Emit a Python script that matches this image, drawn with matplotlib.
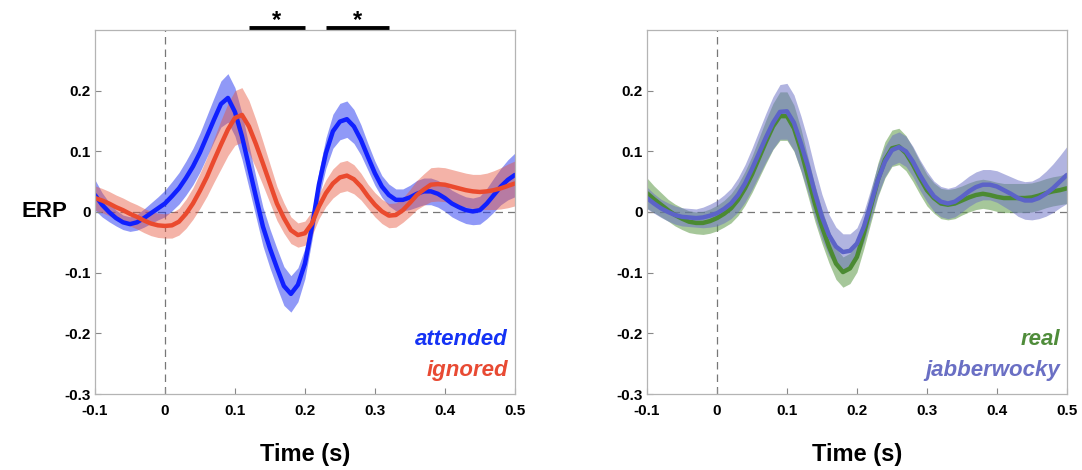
import numpy as np
import matplotlib
matplotlib.use('Agg')
import matplotlib.pyplot as plt

plt.rcParams['font.family'] = ['Liberation Sans', 'DejaVu Sans']

# time axis (s), one sample every 10 ms
time = np.round(np.arange(-0.1, 0.5001, 0.01), 2)

# left panel: attention
attended = [0.028, 0.012, 0.0, -0.01, -0.017, -0.02, -0.017, -0.01, -0.002, 0.006,
            0.014, 0.026, 0.039, 0.056, 0.075, 0.098, 0.125, 0.152, 0.178, 0.188,
            0.165, 0.125, 0.075, 0.025, -0.024, -0.06, -0.092, -0.122, -0.135, -0.12,
            -0.085, -0.025, 0.045, 0.097, 0.133, 0.149, 0.153, 0.141, 0.119, 0.091,
            0.064, 0.042, 0.028, 0.02, 0.02, 0.024, 0.03, 0.034, 0.034, 0.03,
            0.023, 0.014, 0.008, 0.003, 0.001, 0.003, 0.014, 0.028, 0.042, 0.053,
            0.061]
attended_sem = [0.025, 0.02, 0.016, 0.013, 0.012, 0.012, 0.013, 0.015, 0.017, 0.019,
                0.022, 0.024, 0.026, 0.028, 0.03, 0.032, 0.034, 0.036, 0.038, 0.04,
                0.04, 0.038, 0.035, 0.033, 0.032, 0.032, 0.032, 0.032, 0.03, 0.028,
                0.025, 0.022, 0.022, 0.025, 0.028, 0.03, 0.03, 0.028, 0.025, 0.022,
                0.02, 0.018, 0.018, 0.018, 0.018, 0.02, 0.022, 0.022, 0.022, 0.022,
                0.022, 0.022, 0.022, 0.022, 0.022, 0.023, 0.025, 0.028, 0.03, 0.033,
                0.036]
ignored = [0.023, 0.019, 0.014, 0.008, 0.003, -0.003, -0.008, -0.014, -0.019, -0.022,
           -0.023, -0.022, -0.016, -0.003, 0.014, 0.035, 0.058, 0.085, 0.111, 0.136,
           0.155, 0.16, 0.141, 0.112, 0.08, 0.047, 0.014, -0.01, -0.03, -0.038,
           -0.035, -0.019, 0.009, 0.031, 0.047, 0.057, 0.06, 0.054, 0.042, 0.026,
           0.012, 0.001, -0.006, -0.005, 0.003, 0.015, 0.028, 0.037, 0.045, 0.046,
           0.045, 0.042, 0.039, 0.036, 0.034, 0.033, 0.034, 0.036, 0.039, 0.043,
           0.047]
ignored_sem = [0.02, 0.02, 0.02, 0.02, 0.02, 0.02, 0.02, 0.02, 0.02, 0.02,
               0.02, 0.021, 0.022, 0.024, 0.026, 0.029, 0.032, 0.036, 0.04, 0.043,
               0.045, 0.045, 0.043, 0.04, 0.036, 0.032, 0.028, 0.025, 0.022, 0.02,
               0.02, 0.02, 0.02, 0.022, 0.024, 0.025, 0.025, 0.024, 0.022, 0.02,
               0.02, 0.02, 0.02, 0.02, 0.02, 0.022, 0.024, 0.026, 0.028, 0.028,
               0.028, 0.028, 0.028, 0.028, 0.028, 0.029, 0.03, 0.032, 0.034, 0.036,
               0.037]

# right panel: word type
real = [0.031, 0.021, 0.012, 0.003, -0.005, -0.011, -0.016, -0.018, -0.018, -0.015,
        -0.01, -0.003, 0.006, 0.02, 0.039, 0.062, 0.089, 0.116, 0.141, 0.158,
        0.158, 0.138, 0.102, 0.058, 0.014, -0.024, -0.057, -0.085, -0.099, -0.093,
        -0.074, -0.035, 0.009, 0.053, 0.086, 0.105, 0.108, 0.097, 0.078, 0.056,
        0.036, 0.023, 0.014, 0.012, 0.014, 0.019, 0.024, 0.028, 0.03, 0.028,
        0.025, 0.023, 0.023, 0.023, 0.023, 0.024, 0.027, 0.031, 0.034, 0.036,
        0.039]
real_sem = [0.025, 0.022, 0.02, 0.018, 0.018, 0.018, 0.018, 0.018, 0.019, 0.02,
            0.021, 0.022, 0.024, 0.026, 0.028, 0.03, 0.033, 0.036, 0.038, 0.04,
            0.04, 0.038, 0.035, 0.032, 0.03, 0.028, 0.027, 0.026, 0.025, 0.025,
            0.025, 0.025, 0.026, 0.028, 0.03, 0.03, 0.03, 0.029, 0.028, 0.027,
            0.026, 0.025, 0.025, 0.025, 0.025, 0.024, 0.024, 0.024, 0.024, 0.024,
            0.024, 0.024, 0.024, 0.024, 0.024, 0.024, 0.024, 0.024, 0.024, 0.024,
            0.025]
jabber = [0.023, 0.014, 0.006, 0.0, -0.005, -0.008, -0.009, -0.01, -0.009, -0.006,
          -0.002, 0.005, 0.014, 0.028, 0.047, 0.071, 0.097, 0.123, 0.147, 0.165,
          0.166, 0.147, 0.113, 0.075, 0.031, -0.008, -0.038, -0.057, -0.066, -0.064,
          -0.052, -0.024, 0.014, 0.053, 0.083, 0.102, 0.107, 0.1, 0.083, 0.061,
          0.042, 0.026, 0.017, 0.014, 0.017, 0.025, 0.034, 0.041, 0.045, 0.045,
          0.042, 0.036, 0.03, 0.023, 0.019, 0.019, 0.023, 0.03, 0.039, 0.05,
          0.061]
jabber_sem = [0.018, 0.016, 0.015, 0.015, 0.015, 0.015, 0.015, 0.015, 0.017, 0.019,
              0.021, 0.023, 0.025, 0.028, 0.031, 0.034, 0.037, 0.04, 0.043, 0.045,
              0.046, 0.046, 0.045, 0.043, 0.04, 0.037, 0.034, 0.032, 0.03, 0.028,
              0.026, 0.025, 0.025, 0.025, 0.025, 0.025, 0.025, 0.025, 0.025, 0.025,
              0.025, 0.025, 0.025, 0.025, 0.025, 0.025, 0.025, 0.025, 0.025, 0.025,
              0.026, 0.027, 0.028, 0.03, 0.031, 0.032, 0.034, 0.037, 0.04, 0.043,
              0.047]

# significant windows (s)
sig_windows = [(0.12, 0.2), (0.23, 0.32)]

xticks = [-0.1, 0, 0.1, 0.2, 0.3, 0.4, 0.5]
xticklabels = ['-0.1', '0', '0.1', '0.2', '0.3', '0.4', '0.5']
yticks = [-0.3, -0.2, -0.1, 0, 0.1, 0.2]
yticklabels = ['-0.3', '-0.2', '-0.1', '0', '0.1', '0.2']


def draw_trace(ax, m, s, line_col, band_col, band_alpha):
    m = np.array(m)
    s = np.array(s)
    ax.fill_between(time, m - s, m + s, color=band_col, alpha=band_alpha, lw=0)
    ax.plot(time, m, color=line_col, lw=3.2, solid_capstyle='round')


def style_axes(ax):
    ax.axhline(0, color='#555555', lw=0.9, ls=(0, (6, 4)), alpha=0.8, zorder=0)
    ax.axvline(0, color='#555555', lw=0.9, ls=(0, (6, 4)), alpha=0.8, zorder=0)
    ax.set_xlim(-0.1, 0.5)
    ax.set_ylim(-0.3, 0.3)
    ax.set_xticks(xticks)
    ax.set_xticklabels(xticklabels)
    ax.set_yticks(yticks)
    ax.set_yticklabels(yticklabels)
    for sp in ax.spines.values():
        sp.set_color('#b4b4b4')
        sp.set_linewidth(0.9)
    ax.tick_params(direction='in', length=4, width=0.8, color='#888888',
                   labelsize=11)
    ax.tick_params(axis='x', pad=7)
    ax.tick_params(axis='y', pad=3)
    for lab in ax.get_xticklabels() + ax.get_yticklabels():
        lab.set_fontweight('bold')
    # MATLAB puts the lowest y label a bit above the corner
    ax.get_yticklabels()[0].set_verticalalignment('center_baseline')
    ax.get_yticklabels()[0].set_y(-0.295)
    ax.set_xlabel('Time (s)', fontsize=17, fontweight='bold', labelpad=18)


fig = plt.figure(figsize=(10.82, 4.70), dpi=100)
ax1 = fig.add_axes([0.0878, 0.1617, 0.388, 0.7745])
ax2 = fig.add_axes([0.598, 0.1617, 0.388, 0.7745])

# left
style_axes(ax1)
draw_trace(ax1, attended, attended_sem, '#1020ff', '#2a3cf0', 0.52)
draw_trace(ax1, ignored, ignored_sem, '#ea4a2e', '#e8573e', 0.45)
ax1.set_ylabel('ERP', fontsize=16, fontweight='bold', rotation=0,
               ha='center', va='center')
ax1.yaxis.set_label_coords(-0.12, 0.5)
ax1.text(0.49, -0.21, 'attended', color='#1432f5', fontsize=16,
         fontweight='bold', style='italic', ha='right', va='center')
ax1.text(0.49, -0.262, 'ignored', color='#e84a33', fontsize=16,
         fontweight='bold', style='italic', ha='right', va='center')
for a, b in sig_windows:
    ax1.plot([a, b], [0.304, 0.304], color='black', lw=3.5,
             solid_capstyle='butt', clip_on=False)
    ax1.text((a + b) / 2, 0.315, '*', ha='center', va='center',
             fontsize=17, fontweight='bold', clip_on=False)

# right
style_axes(ax2)
draw_trace(ax2, real, real_sem, '#4b8a32', '#5e9a48', 0.55)
draw_trace(ax2, jabber, jabber_sem, '#5c63c8', '#6a6fc4', 0.52)
ax2.text(0.49, -0.21, 'real', color='#4f8c3a', fontsize=16,
         fontweight='bold', style='italic', ha='right', va='center')
ax2.text(0.49, -0.262, 'jabberwocky', color='#6a6fc4', fontsize=16,
         fontweight='bold', style='italic', ha='right', va='center')

fig.savefig('out.png', dpi=100)
